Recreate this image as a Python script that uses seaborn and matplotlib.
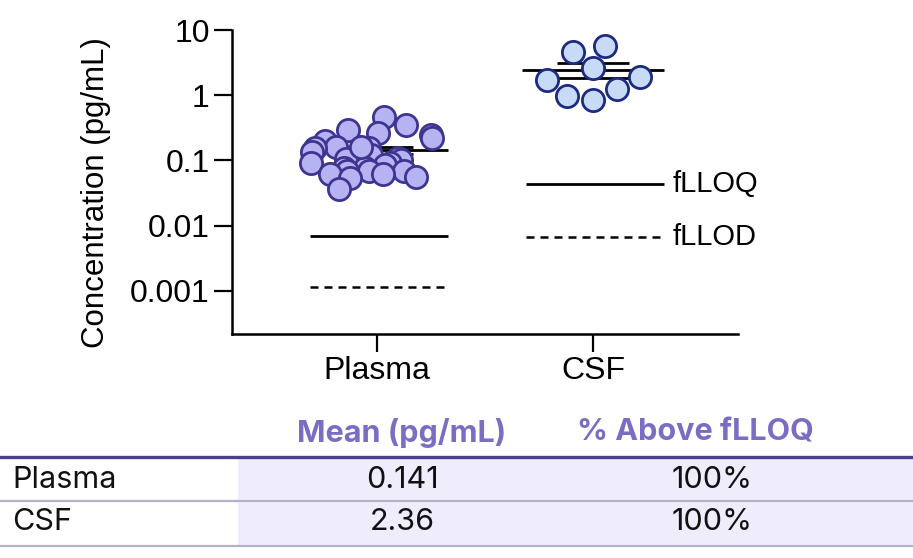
import numpy as np
import pandas as pd
import matplotlib.pyplot as plt
import seaborn as sns
from matplotlib.ticker import FixedLocator, FixedFormatter, NullLocator

# Data
groups = ['Plasma', 'CSF']
plasma_values = [0.46, 0.345, 0.29, 0.26, 0.242, 0.218, 0.2, 0.16, 0.158, 0.155,
                 0.133, 0.12, 0.111, 0.107, 0.1, 0.093, 0.09, 0.085, 0.078, 0.078,
                 0.07, 0.07, 0.07, 0.063, 0.063, 0.055, 0.053, 0.037, 0.16]
csf_values = [4.63, 1.72, 0.84, 1.89, 0.97, 5.67, 2.60, 1.24]
flloq = [0.007, 0.044]
fllod = [0.00115, 0.0066]
table_means = ['0.141', '2.36']
table_above = ['100%', '100%']

plasma = pd.DataFrame({'Group': 'Plasma', 'Conc': plasma_values})
csf = pd.DataFrame({'Group': 'CSF', 'Conc': csf_values})

sns.set_style('white')
plt.rcParams['font.family'] = ['Liberation Sans', 'DejaVu Sans']
plt.rcParams['text.color'] = 'black'
plt.rcParams['axes.labelcolor'] = 'black'
plt.rcParams['xtick.color'] = 'black'
plt.rcParams['ytick.color'] = 'black'

fig = plt.figure(figsize=(9.13, 5.58), dpi=100)
ax = fig.add_axes([232 / 913, 1 - 334 / 558, (738 - 232) / 913, (334 - 30) / 558])
ax.set_yscale('log')

np.random.seed(3)
sns.stripplot(data=plasma, x='Group', y='Conc', order=groups, jitter=0.32,
              color='#b5b3f2', edgecolor='#3e3590', linewidth=2, size=16,
              ax=ax, zorder=3)
sns.swarmplot(data=csf, x='Group', y='Conc', order=groups,
              color='#c8dbf6', edgecolor='#1c2a80', linewidth=2, size=16,
              ax=ax, zorder=3)

# mean + SEM
for i, vals in enumerate([plasma_values, csf_values]):
    m = np.mean(vals)
    sem = np.std(vals, ddof=1) / np.sqrt(len(vals))
    ax.hlines(m, i - 0.33, i + 0.33, color='black', lw=2, zorder=2)
    ax.errorbar(i, m, yerr=sem, color='black', lw=2, capsize=26, capthick=2, zorder=2)

# limit lines
for i in range(len(groups)):
    ax.hlines(flloq[i], i - 0.31, i + 0.33, color='black', lw=2, zorder=1)
    ax.hlines(fllod[i], i - 0.31, i + 0.33, color='black', lw=1.8,
              linestyles=(0, (3.2, 2.4)), zorder=1)
ax.text(1.37, flloq[1], 'fLLOQ', fontsize=21, va='center', ha='left')
ax.text(1.37, fllod[1], 'fLLOD', fontsize=21, va='center', ha='left')

ax.set_xlim(-0.671, 1.671)
ax.set_ylim(10 ** -3.66, 10)
ax.yaxis.set_major_locator(FixedLocator([10, 1, 0.1, 0.01, 0.001]))
ax.yaxis.set_major_formatter(FixedFormatter(['10', '1', '0.1', '0.01', '0.001']))
ax.yaxis.set_minor_locator(NullLocator())
ax.set_xlabel('')
ax.set_ylabel('Concentration (pg/mL)', fontsize=22.5)
ax.yaxis.set_label_coords(-0.24, 0.465)
ax.tick_params(axis='both', labelsize=23, length=13, width=1.6,
               left=True, bottom=True, pad=3)
for s in ['top', 'right']:
    ax.spines[s].set_visible(False)
for s in ['left', 'bottom']:
    ax.spines[s].set_color('black')
    ax.spines[s].set_linewidth(1.8)

# summary table under the chart, in pixel coordinates
tab = fig.add_axes([0, 0, 1, 1 - 400 / 558])
tab.set_xlim(0, 913)
tab.set_ylim(558, 400)
tab.axis('off')
tab.axvspan(238, 913, ymin=(558 - 546) / 158, ymax=(558 - 457) / 158,
            color='#efedfc', lw=0)
tab.axhline(457, color='#4a3f8c', lw=2.4)
tab.axhline(501, color='#b4b2c4', lw=1.6)
tab.axhline(546, color='#b4b2c4', lw=1.6)
head_kw = dict(fontsize=22, fontweight='bold', color='#7b6cc4', ha='center',
               va='center', family=['Inter', 'DejaVu Sans'])
tab.text(402, 433, 'Mean (pg/mL)', **head_kw)
tab.text(695, 433, '% Above fLLOQ', **head_kw)
cell_kw = dict(fontsize=22, color='#111111', va='center', family=['Inter', 'DejaVu Sans'])
for j, g in enumerate(groups):
    y = 480 + j * 42
    tab.text(12, y, g, ha='left', **cell_kw)
    tab.text(402, y, table_means[j], ha='center', **cell_kw)
    tab.text(712, y, table_above[j], ha='center', **cell_kw)

fig.savefig('out.png', dpi=100)
